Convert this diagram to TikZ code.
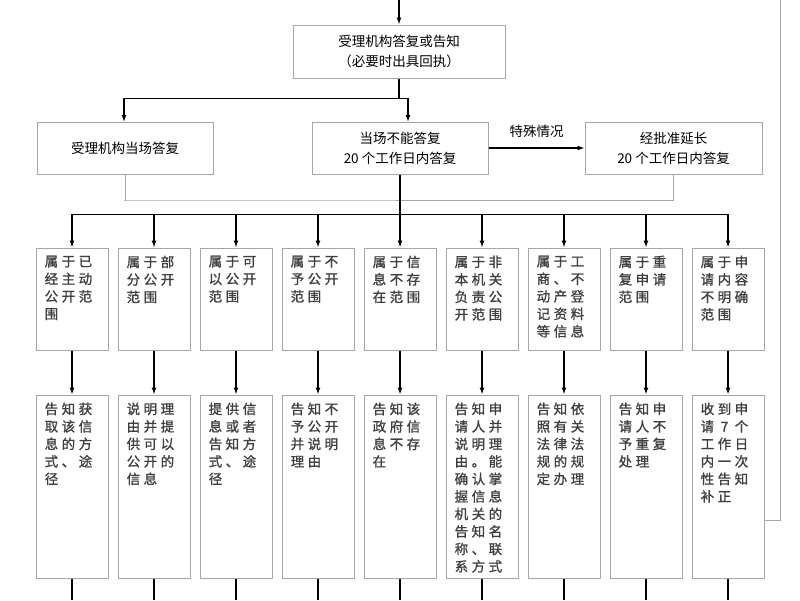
\documentclass[tikz,border=0pt]{standalone}
\usepackage{fontspec}
\newfontfamily\cjk{Noto Sans CJK SC}
\newfontfamily\cjkcol[LetterSpace=26,FakeBold=1.2]{Noto Sans CJK SC}
\usepackage{tikz}
\usetikzlibrary{positioning,calc,arrows.meta}

\tikzset{
	box/.style={draw=gray!70, line width=1pt, minimum width=#1, inner sep=0pt, font=\cjk\fontsize{13.5}{20}\selectfont, align=center},
	col/.style={draw=gray!70, line width=1pt, minimum width=72pt, inner sep=0pt},
	txt/.style={anchor=north west, inner sep=0pt, align=left, font=\cjkcol\fontsize{13.5}{17.5}\selectfont, text=black!75},
	arr/.style={-{Latex[length=7pt,width=5pt]}, line width=1.3pt},
	wire/.style={draw=gray!70, line width=1pt}
}

\begin{document}
\begin{tikzpicture}[x=1pt,y=-1pt]
		\useasboundingbox (0,0) rectangle (800,600);
		
		% top part
		\node[box=212pt, minimum height=53pt] (reply) at (399,51.5) {受理机构答复或告知\\（必要时出具回执）};
		\node[box=176pt, minimum height=52pt] (spot) at (125,148) {受理机构当场答复};
		\node[box=176pt, minimum height=52pt] (later) at (400,148) {当场不能答复\\20 个工作日内答复};
		\node[box=177pt, minimum height=52pt] (ext) at (673.5,148) {经批准延长\\20 个工作日内答复};
		
		\coordinate (in) at (399,0);
		\coordinate (split) at (399,98);
		\coordinate (bus) at (400,214);
		
		\draw[arr] (in) -- (reply);
		\draw[line width=1.3pt] (reply) -- (split);
		\draw[line width=1pt] (split) -- (124,98) (split) -- (408,98);
		\draw[arr] (124,98) -- (124,122);
		\draw[arr] (408,98) -- (408,122);
		\draw[arr] (later) -- node[above=6pt, font=\cjk\fontsize{13.5}{15}\selectfont] {特殊情况} (ext);
		\draw[wire] (spot.south) |- (124,200) -| (ext.south);
		\draw[line width=1.3pt] (later) -- (bus);
		\draw[line width=1pt] (72,214) -- (728,214);
		
		% columns
		\foreach \i/\a/\b in {
			1/{属于已\\经主动\\公开范\\围}/{告知获\\取该信\\息的方\\式、途\\径},
			2/{属于部\\分公开\\范围}/{说明理\\由并提\\供可以\\公开的\\信息},
			3/{属于可\\以公开\\范围}/{提供信\\息或者\\告知方\\式、途\\径},
			4/{属于不\\予公开\\范围}/{告知不\\予公开\\并说明\\理由},
			5/{属于信\\息不存\\在范围}/{告知该\\政府信\\息不存\\在},
			6/{属于非\\本机关\\负责公\\开范围}/{告知申\\请人并\\说明理\\由。能\\确认掌\\握信息\\机关的\\告知名\\称、联\\系方式},
			7/{属于工\\商、不\\动产登\\记资料\\等信息}/{告知依\\照有关\\法律法\\规的规\\定办理},
			8/{属于重\\复申请\\范围}/{告知申\\请人不\\予重复\\处理},
			9/{属于申\\请内容\\不明确\\范围}/{收到申\\请 7 个\\工作日\\内一次\\性告知\\补正}}
		{
			\pgfmathsetmacro{\x}{72+82*(\i-1)}
			\node[col, minimum height=102pt] (c\i) at (\x,299) {};
			\node[col, minimum height=183pt] (d\i) at (\x,486.5) {};
			\node[txt] at ($(c\i.north west)+(9,8)$) {\a};
			\node[txt] at ($(d\i.north west)+(9,8)$) {\b};
			\draw[arr] (\x,214) -- (c\i);
			\draw[arr] (c\i) -- (d\i);
			\coordinate (e\i) at (\x,600);
			\draw[line width=1.3pt] (d\i) -- (e\i);
		}
		
		% back line on the right
		\coordinate (back) at (780,0);
		\draw[wire] (d9.east |- 0,520) -| (back);
\end{tikzpicture}
\end{document}
